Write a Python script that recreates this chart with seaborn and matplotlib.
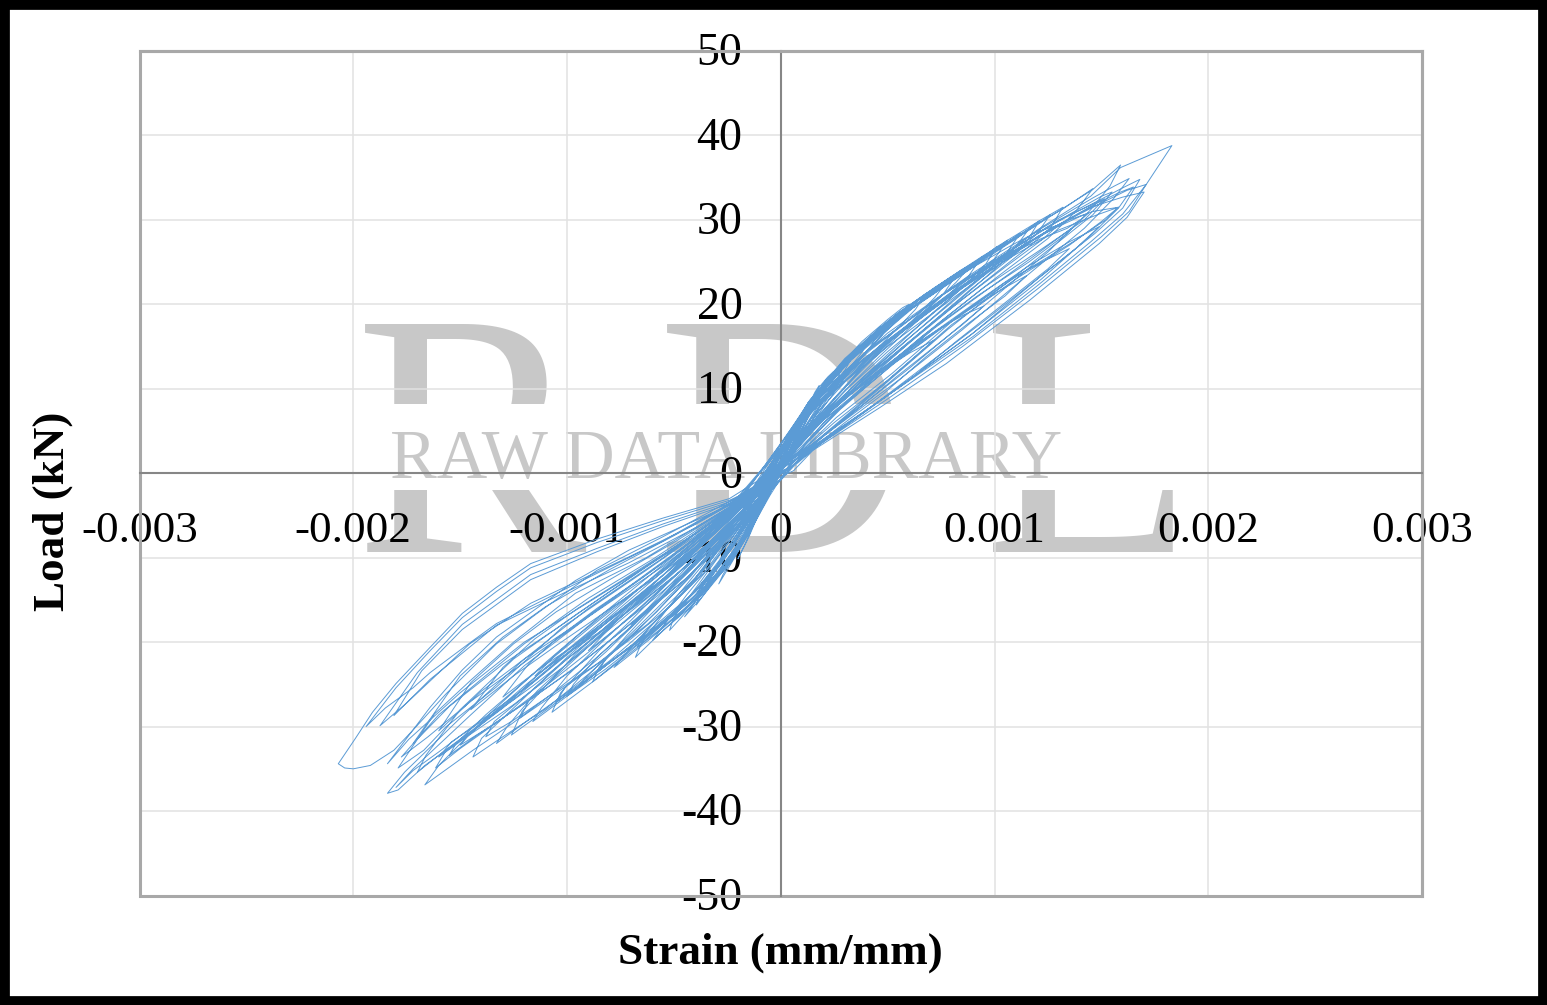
import numpy as np
import pandas as pd
import matplotlib
matplotlib.use("Agg")
import matplotlib.pyplot as plt
from matplotlib.patches import Rectangle
from matplotlib.transforms import ScaledTranslation
import seaborn as sns

# cycles, strain in units of 0.001 mm/mm, load in kN
neg_strain = [
    [-.24,-.55,-.86,-1.17,-1.33,-1.49,-1.64,-1.80,-1.91,-1.99,-2.07,-2.04,-2.0,-1.92,-1.81,-1.72,-1.565,-1.33,-1.14,-.86,-.55,-.2],
    [-.24,-.55,-.86,-1.17,-1.33,-1.49,-1.64,-1.80,-1.94,-1.85,-1.72,-1.64,-1.45,-1.33,-.96,-.55,-.2],
    [-.24,-.55,-.86,-1.17,-1.49,-1.70,-1.875,-1.75,-1.455,-1.17,-.71,-.395,-.15],
    [-.24,-.55,-.86,-1.17,-1.49,-1.68,-1.81,-1.64,-1.33,-1.0,-.71,-.395,-.15],
    [-.24,-.71,-.96,-1.33,-1.49,-1.64,-1.84,-1.74,-1.5,-1.2,-.85,-.5,-.2],
    [-.24,-.63,-.96,-1.25,-1.45,-1.62,-1.79,-1.67,-1.565,-1.33,-1.02,-.63,-.16],
    [-.24,-.6,-.9,-1.2,-1.42,-1.6,-1.775,-1.65,-1.45,-1.2,-.9,-.55,-.18],
    [-.25,-.55,-.9,-1.2,-1.5,-1.76,-1.84,-1.79,-1.665,-1.44,-1.2,-.9,-.55,-.25],
    [-.25,-.55,-.9,-1.2,-1.45,-1.72,-1.8,-1.72,-1.6,-1.4,-1.15,-.85,-.5,-.2],
    [-.25,-.55,-.85,-1.1,-1.35,-1.6,-1.665,-1.55,-1.44,-1.26,-1.07,-.86,-.63,-.395,-.16],
    [-.25,-.55,-.85,-1.1,-1.3,-1.57,-1.615,-1.5,-1.3,-1.1,-.9,-.65,-.4,-.15],
    [-.25,-.55,-.8,-1.05,-1.25,-1.54,-1.6,-1.48,-1.25,-1.0,-.75,-.5,-.3,-.12],
    [-.25,-.5,-.75,-1,-1.2,-1.40,-1.44,-1.3,-1.1,-.9,-.68,-.42,-.2],
    [-.25,-.5,-.75,-1,-1.15,-1.34,-1.38,-1.26,-1.05,-.85,-.62,-.4,-.18],
    [-.25,-.395,-.61,-.785,-.96,-1.21,-1.26,-1.08,-.89,-.71,-.535,-.395,-.27,-.08],
    [-.25,-.42,-.62,-.8,-.98,-1.18,-1.22,-1.06,-.88,-.7,-.52,-.36,-.2],
    [-.2,-.35,-.52,-.7,-.85,-1.03,-1.07,-.88,-.72,-.56,-.42,-.28,-.1],
    [-.2,-.35,-.52,-.68,-.82,-1.01,-1.05,-.86,-.7,-.54,-.4,-.26,-.1],
    [-.18,-.3,-.45,-.6,-.72,-.85,-.88,-.72,-.58,-.45,-.32,-.2,-.08],
    [-.18,-.3,-.44,-.58,-.7,-.82,-.85,-.68,-.54,-.42,-.3,-.18,-.07],
    [-.15,-.25,-.37,-.48,-.65,-.68,-.55,-.43,-.32,-.2,-.07],
    [-.15,-.25,-.36,-.47,-.64,-.67,-.53,-.41,-.3,-.18,-.06],
    [-.12,-.2,-.3,-.38,-.5,-.52,-.42,-.32,-.23,-.14,-.05],
    [-.12,-.2,-.29,-.37,-.48,-.5,-.4,-.3,-.21,-.13,-.05],
    [-.1,-.17,-.24,-.3,-.38,-.395,-.32,-.25,-.17,-.1,-.04],
    [-.1,-.16,-.23,-.29,-.36,-.38,-.3,-.23,-.16,-.09,-.03],
    [-.08,-.13,-.18,-.22,-.27,-.29,-.23,-.17,-.12,-.07,-.02],
    [-.06,-.1,-.14,-.17,-.2,-.15,-.11,-.07,-.03],
    [-.05,-.09,-.12,-.15,-.18,-.13,-.09,-.05,-.02],
    [-.25,-.6,-.95,-1.25,-1.5,-1.66,-1.70,-1.58,-1.4,-1.15,-.88,-.6,-.3,-.1],
    [-.25,-.55,-.88,-1.15,-1.38,-1.52,-1.55,-1.42,-1.22,-.98,-.75,-.5,-.26,-.1],
    [-.22,-.5,-.8,-1.08,-1.32,-1.46,-1.5,-1.36,-1.16,-.92,-.68,-.44,-.24,-.08],
    [-.22,-.46,-.72,-.95,-1.14,-1.28,-1.33,-1.18,-1,-.8,-.6,-.38,-.18],
    [-.2,-.4,-.62,-.82,-1,-1.12,-1.16,-1,-.82,-.64,-.46,-.3,-.12],
    [-.18,-.36,-.55,-.72,-.86,-.97,-1,-.84,-.68,-.52,-.36,-.22,-.08],
    [-.16,-.32,-.5,-.66,-.8,-.92,-.95,-.78,-.62,-.48,-.34,-.2,-.07],
    [-.14,-.28,-.42,-.56,-.68,-.76,-.78,-.62,-.48,-.36,-.24,-.14,-.05],
    [-.12,-.22,-.33,-.44,-.54,-.6,-.48,-.36,-.26,-.16,-.05],
    [-.1,-.18,-.26,-.34,-.41,-.45,-.36,-.27,-.19,-.11,-.04],
    [-.22,-.5,-.8,-1.1,-1.3,-1.5,-1.72,-1.55,-1.3,-1.05,-.8,-.5,-.22,-.08],
    [-.22,-.5,-.8,-1.05,-1.25,-1.45,-1.6,-1.4,-1.2,-.95,-.72,-.45,-.2,-.07],
    [-.2,-.45,-.7,-.95,-1.15,-1.3,-1.45,-1.25,-1.05,-.82,-.6,-.38,-.16,-.06],
    [-.2,-.42,-.65,-.86,-1.05,-1.18,-1.3,-1.12,-.92,-.72,-.52,-.32,-.14,-.05],
    [-.18,-.38,-.58,-.78,-.94,-1.05,-1.15,-.98,-.8,-.62,-.45,-.28,-.12],
    [-.16,-.32,-.5,-.66,-.78,-.9,-.75,-.6,-.46,-.32,-.18,-.06],
    [-.14,-.28,-.42,-.54,-.63,-.7,-.58,-.45,-.33,-.22,-.1,-.04],
]
neg_load = [
    [-3.0,-5.3,-7.8,-10.7,-13.5,-16.6,-20.6,-24.9,-28.3,-31.4,-34.4,-34.9,-35,-34.6,-32.8,-30.4,-26.1,-20.2,-16.6,-11.5,-7.5,-2.8],
    [-3.2,-5.6,-8.2,-11.2,-14,-17.1,-21,-25.4,-30,-27.8,-25.4,-23.6,-20,-17.8,-13.1,-8.0,-3.0],
    [-3.4,-6.0,-8.9,-12.0,-17.9,-23.6,-29.9,-27.2,-20.2,-15.4,-9.9,-6.0,-2.5],
    [-3.6,-6.3,-9.3,-12.6,-18.5,-23.4,-28.7,-24.4,-18.0,-14.0,-10.6,-6.4,-2.6],
    [-3.8,-9.1,-12.7,-19.4,-23.3,-27.7,-34.4,-31.5,-26,-20,-14.5,-9,-3.6],
    [-4,-10,-14.2,-20,-24.5,-28.5,-34.9,-32.8,-30,-25.3,-18.2,-11.5,-3.2],
    [-4.2,-10.2,-14.8,-20.2,-24.8,-28.6,-33.6,-31.2,-27,-22.4,-17,-11,-3.6],
    [-4.4,-10,-16,-22,-29,-35.4,-37.9,-37.5,-34.6,-30.5,-25.2,-19,-12.5,-5],
    [-4.6,-10.6,-17,-22.8,-28.6,-35,-37.2,-35.2,-33,-29.2,-24.6,-18.4,-11.6,-4.4],
    [-4.6,-10.8,-17,-22.4,-28.2,-34.6,-36.9,-34.8,-32.8,-29.7,-26.1,-21.8,-16.6,-10.7,-4],
    [-4.8,-11.2,-17.8,-23,-27.8,-33,-34.9,-32.6,-29,-25.2,-21.2,-15.8,-10,-3.6],
    [-5,-11.6,-17,-22.4,-26.8,-31.8,-33.6,-31.4,-27.4,-22.6,-17.4,-12.2,-7.8,-3],
    [-5.2,-11,-16.2,-21.8,-26.6,-31.4,-33.6,-31.2,-27.9,-23.8,-18.9,-12.2,-5.2],
    [-5.4,-11.4,-16.8,-22,-25.4,-29.4,-31.2,-29.4,-25.8,-22.4,-17.8,-12.4,-5],
    [-5.2,-8.3,-13.5,-17.4,-21.4,-28.2,-31,-27.7,-24.1,-20.6,-17.4,-14.3,-9.9,-3.2],
    [-5.6,-9.4,-14.2,-18.2,-22.4,-27,-29,-26.2,-23,-19.6,-15.8,-11.8,-6.4],
    [-4.6,-8.6,-12.8,-17.4,-21,-26,-28.3,-24.7,-21.4,-18,-15,-10.8,-3.8],
    [-5,-9,-13.6,-17.8,-21.2,-25.4,-27.1,-23.6,-20.4,-17,-14,-9.8,-3.6],
    [-4.4,-7.8,-12,-16,-19.2,-23,-24.7,-21.6,-18.8,-16,-12.8,-8.4,-3],
    [-4.8,-8.4,-12.6,-16.4,-19.2,-22,-23.3,-20.2,-17.6,-15,-12,-7.8,-2.8],
    [-4,-7.2,-11,-14.4,-20,-21.8,-18.6,-16,-13,-9,-3],
    [-4.4,-7.6,-11.2,-14.4,-19,-20.6,-17.4,-14.8,-12,-8,-2.6],
    [-3.6,-6.6,-10.2,-13,-17,-18.6,-15.8,-13,-10,-6.4,-2.4],
    [-4,-7,-10.4,-13,-16.2,-17.4,-14.8,-12,-9,-5.8,-2.2],
    [-3.2,-6,-9,-11.4,-14.4,-15.6,-13,-10.8,-7.8,-4.8,-1.8],
    [-3.6,-6,-8.8,-10.8,-13.2,-14.3,-11.8,-9.4,-6.8,-4,-1.4],
    [-3,-5.4,-7.8,-9.8,-12,-13.1,-10.6,-8,-5.6,-3.2,-1],
    [-2.4,-4.6,-6.8,-8.6,-10.1,-7.6,-5.2,-3.2,-1.2],
    [-2.6,-4.4,-5.8,-7,-8,-5.8,-3.8,-2.2,-.8],
    [-4.5,-10.6,-16.6,-22,-28,-33.4,-35.4,-33,-29.6,-25,-19.6,-14,-7.4,-2.4],
    [-4.8,-11.4,-18,-23.6,-28.6,-32,-33.4,-31,-27.6,-23.4,-18.8,-13.4,-7.4,-2.8],
    [-4.8,-11,-17.4,-23,-28,-31,-32.2,-30,-26.6,-22.2,-17.4,-12.4,-7.4,-2.4],
    [-5,-10.8,-16.4,-21.4,-25.8,-30,-32,-29.2,-26,-22.2,-17.8,-12.2,-5],
    [-5,-10,-15,-19.6,-24,-27.8,-29.4,-26.4,-23.2,-19.6,-15.6,-11,-3.8],
    [-4.6,-9.4,-14.4,-18.6,-21.8,-25,-26.4,-23.2,-20.2,-16.8,-13,-8.4,-3],
    [-4.6,-9.2,-14,-18,-21.4,-24.4,-25.4,-22,-19,-16,-12.6,-8,-2.8],
    [-4.4,-8.8,-13.2,-16.8,-20,-22.4,-23,-19.8,-16.8,-14,-10.8,-6.8,-2.2],
    [-3.8,-7.4,-11,-14.4,-17.8,-19.8,-17,-14,-11,-7,-2],
    [-3.4,-6.6,-9.8,-12.8,-15.6,-17,-14.4,-11.6,-8.8,-5.2,-1.6],
    [-3.4,-7.4,-11.4,-15.8,-19.4,-24,-32,-27.6,-22.6,-18.4,-14,-8.8,-4,-1.4],
    [-3.8,-8.2,-12.6,-16.4,-20.2,-24.8,-30.5,-25.8,-22,-17.8,-13.6,-8.6,-4,-1.4],
    [-3.8,-8,-12,-16,-19.6,-23,-28,-24,-20.4,-16.4,-12.6,-8.4,-3.6,-1.2],
    [-3.9,-8.2,-12.4,-16,-19.6,-22.6,-26.5,-23,-19.6,-15.8,-12,-8,-3.4,-1.2],
    [-3.8,-8,-12,-15.8,-19,-21.4,-24,-21,-18,-14.6,-11.2,-7.6,-3],
    [-3.6,-7.4,-11.4,-15,-17.8,-21,-18,-15,-12,-8.8,-5.2,-1.6],
    [-3.4,-7,-10.6,-13.8,-16.2,-18,-15.4,-12.6,-9.8,-6.8,-3.4,-1.2],
]
pos_strain = [
    [.2,.5,.9,1.2,1.45,1.59,1.83,1.71,1.60,1.45,1.2,.9,.5,.15],
    [.15,.45,.85,1.2,1.45,1.6,1.70,1.62,1.49,1.165,.775,.465,.15,.06],
    [.2,.5,.9,1.25,1.5,1.62,1.71,1.63,1.5,1.2,.85,.5,.17],
    [.18,.48,.9,1.25,1.48,1.6,1.68,1.6,1.47,1.22,.9,.52,.18],
    [.18,.5,.88,1.22,1.46,1.56,1.63,1.56,1.42,1.18,.85,.55,.2],
    [.18,.525,.875,1.21,1.46,1.59,1.54,1.45,1.25,.95,.6,.2],
    [.16,.45,.8,1.12,1.35,1.46,1.58,1.5,1.35,1.1,.8,.5,.25,.07],
    [.14,.34,.68,1.01,1.21,1.32,1.46,1.38,1.25,1.0,.75,.5,.28,.08],
    [.14,.4,.75,1.05,1.3,1.42,1.515,1.42,1.2,.95,.7,.45,.25,.08],
    [.12,.38,.72,1.05,1.3,1.48,1.58,1.52,1.38,1.12,.82,.52,.26,.07],
    [.12,.36,.7,1.0,1.22,1.34,1.40,1.34,1.16,.92,.66,.42,.22,.06],
    [.135,.34,.68,.875,1.01,1.21,1.32,1.26,1.15,.95,.7,.45,.25,.07],
    [.12,.33,.62,.9,1.08,1.2,1.3,1.22,1.06,.84,.6,.42,.24,.07],
    [.13,.33,.52,.77,.98,1.12,1.21,1.15,1.02,.85,.62,.4,.2,.06],
    [.13,.32,.52,.76,.95,1.12,1.06,.95,.78,.58,.38,.2,.06],
    [.12,.3,.5,.72,.9,1.01,.96,.85,.68,.5,.32,.17,.05],
    [.12,.28,.46,.66,.8,.875,.82,.72,.58,.42,.27,.13,.04],
    [.11,.26,.44,.6,.72,.775,.72,.62,.5,.36,.22,.1,.03],
    [.1,.24,.4,.54,.63,.68,.63,.54,.42,.3,.18,.08,.03],
    [.09,.2,.33,.44,.525,.47,.38,.28,.18,.08,.03],
    [.08,.18,.28,.36,.415,.37,.3,.22,.14,.07,.02],
    [.08,.16,.24,.3,.34,.3,.24,.17,.1,.05,.02],
    [.07,.13,.18,.22,.245,.21,.16,.11,.06,.02],
    [.05,.09,.13,.16,.18,.15,.11,.07,.03],
    [.04,.07,.1,.12,.135,.11,.08,.05,.02],
    [.02,.04,.055,.07,.05,.03,.01],
    [.16,.46,.85,1.2,1.45,1.58,1.65,1.58,1.46,1.22,.88,.52,.18,.06],
    [.16,.42,.78,1.1,1.36,1.5,1.55,1.46,1.3,1.06,.78,.48,.18,.06],
    [.14,.4,.75,1.05,1.28,1.4,1.44,1.36,1.2,.98,.72,.46,.2,.06],
    [.13,.36,.66,.92,1.1,1.22,1.26,1.2,1.08,.88,.66,.44,.22,.06],
    [.13,.34,.6,.84,1.02,1.12,1.16,1.1,.98,.8,.6,.38,.18,.06],
    [.12,.32,.55,.78,.95,1.03,1.06,1,.9,.72,.54,.36,.18,.05],
    [.12,.3,.5,.72,.87,.92,.94,.88,.78,.62,.46,.3,.15,.05],
    [.11,.28,.46,.66,.78,.82,.825,.76,.66,.52,.38,.24,.12,.04],
    [.1,.24,.38,.5,.57,.6,.55,.46,.34,.24,.14,.05],
    [.09,.2,.3,.4,.45,.47,.42,.34,.25,.16,.08,.03],
    [.07,.14,.21,.27,.3,.26,.2,.14,.08,.03],
    [.03,.06,.08,.1,.08,.05,.02],
    [.1,.3,.55,.82,1.05,1.22,1.35,1.25,1.05,.82,.6,.38,.18,.05],
    [.1,.28,.5,.74,.92,1.05,1.15,1.05,.88,.68,.48,.3,.14,.04],
    [.1,.24,.42,.6,.76,.86,.95,.85,.7,.54,.38,.22,.1,.03],
    [.08,.2,.34,.48,.6,.72,.62,.5,.36,.22,.1,.03],
    [.12,.32,.6,.9,1.15,1.35,1.49,1.38,1.2,.95,.68,.42,.2,.05],
]
pos_load = [
    [8.5,15.5,23,28.8,32.8,36.2,38.8,34.2,30.7,27.4,22.2,16.2,9.2,3.2],
    [7.5,14.5,22,28,31.5,32.7,33.3,30.3,27.2,20.5,13,7.8,2.7,.3],
    [8.8,15,22.5,28.8,32,33.5,34.2,31,28,21.8,15,8.8,3.2],
    [9,15.4,23.4,29.2,32.2,33.8,34.8,31.4,28.4,23.4,16.6,9.6,3.6],
    [9.4,16.6,23.4,29,32.6,34,34.9,32.6,29,24,17,11,4.4],
    [10,18,24,29.6,33.6,36.5,34,31.2,26.2,19.8,12.4,4.5],
    [8.4,14.8,21.4,26.8,30,31,31.5,29.8,27,23,17.6,11,6,2],
    [8.8,13.8,21,26.6,29.7,31.3,33.7,31,27.8,23,18,12.4,7.6,2.5],
    [8.2,14.4,21,26,30,31.4,32.5,30,26.2,22,17,11.8,7,2.4],
    [7,13.4,19.8,25.2,28.8,30.6,31.5,30,27.6,23.6,18.4,11.8,6.6,2],
    [6.8,13,19.4,25,27.8,29,30,28.4,25,21,16.2,11,6.4,2.2],
    [8.6,14,21.3,24.2,26.8,29.9,31.5,29,26.6,22.6,17.6,12.4,8,3],
    [7.6,13.4,19.6,24.4,27,28.6,29.4,27.6,24.6,20.4,15.4,11.6,7.4,2.8],
    [8.4,13.8,18,22.4,26,28.2,29.9,27.4,24.6,20.8,16,11.4,6.6,2.6],
    [8,13.4,17.8,22.2,25.4,28.4,26.2,23.4,19.8,15.6,11.2,7,3],
    [7.8,13,17.4,21.6,24.8,26.8,24.8,22,18.2,14.4,10.2,6.4,2.6],
    [7.6,12.4,16.8,20.8,23.2,24.2,22.6,20.2,17,13.2,9.4,5.6,2.2],
    [7.2,11.8,16.6,19.8,21.8,22.6,20.8,18.2,15.4,12,8,4.4,1.8],
    [6.6,11.4,15.8,18.8,20.4,21.3,19.4,17,14,10.8,7.4,4,1.8],
    [6,9.8,13.6,16.4,18.3,16.2,13.8,11,7.8,4.2,1.8],
    [5.4,9.2,12.4,14.6,15.7,14,11.8,9.4,6.4,3.6,1.4],
    [5.6,8.6,11,12.8,14,12.2,10,7.8,5,3,1.4],
    [5,8.2,10.2,11.4,12,10,8,5.8,3.4,1.4],
    [3.8,6,8,9.6,10.4,8.4,6.4,4,2],
    [3.2,5.2,7,8,8.6,6.8,5,3,1.4],
    [2.4,4,5,5.9,4.2,2.6,1],
    [8.2,14.8,22,28,31.6,33.2,33.9,31.4,28.4,23,16.2,9.6,3.4,.8],
    [8.6,14.6,21.6,26.8,30.8,32.8,33.3,30.6,27.4,22.6,17,10.4,4,1],
    [8,14.4,21,25.8,29,30.4,30.8,29,26,22,17.2,11.8,6,1.8],
    [8.2,14.4,20.8,25,27.8,29.8,30.6,28.4,25.6,21.6,16.8,11.8,7,2.4],
    [8.4,14,19.8,24,26.6,28.2,28.9,26.8,24.2,20.4,16,11,6.2,2.4],
    [8,13.8,19,23,25.8,27,27.6,25.4,23,19.2,15,10.8,6.4,2.4],
    [8,13.2,18,22,24.4,25.2,25.6,23.4,21,17.6,13.8,9.8,5.6,2.2],
    [7.6,12.8,17.2,20.8,22.8,23.4,23.6,21.2,19,15.8,12.4,8.4,4.8,1.8],
    [7,11.8,15.6,18.2,19.6,20,18.2,16,12.8,9.6,6,2.2],
    [6.4,10.6,13.6,15.8,16.8,17,15,12.6,9.6,6.4,3.4,1.2],
    [5.2,8.4,11,12.4,13,11,8.6,6,3.4,1.2],
    [2.8,4.8,6,7,5.2,3,.8],
    [4.4,8.2,13.4,18.4,22.6,25,26.6,24.2,20.2,15.6,11,7,3.4,.8],
    [4.2,8,12.6,17,20,22,23.4,21,17.8,13.8,9.4,6,2.8,.6],
    [4.4,7.6,11.4,14.8,17.4,18.8,19.8,17.6,14.6,11.4,8,4.8,2.2,.6],
    [3.8,6.6,9.6,12.2,14.2,15.8,13.6,11,8,5,2.4,.6],
    [5,9.4,14.6,20,24.4,27.4,29.2,26.6,23,18,12.8,7.8,3.8,.8],
]

x_ticks = [-0.003, -0.002, -0.001, 0, 0.001, 0.002, 0.003]
x_labels = ["-0.003", "-0.002", "-0.001", "0", "0.001", "0.002", "0.003"]
y_ticks = [-50, -40, -30, -20, -10, 0, 10, 20, 30, 40, 50]
y_labels = ["-50", "-40", "-30", "-20", "-10", "0", "10", "20", "30", "40", "50"]

# one continuous path, swinging between tension and compression
path_strain = []
path_load = []
n_cycles = max(len(neg_strain), len(pos_strain))
for i in range(n_cycles):
    if i < len(pos_strain):
        path_strain += pos_strain[i]
        path_load += pos_load[i]
    if i < len(neg_strain):
        path_strain += neg_strain[i]
        path_load += neg_load[i]

df = pd.DataFrame({"strain": np.array(path_strain) * 1e-3, "load": path_load})

sns.set_theme(style="white")
plt.rcParams["font.family"] = ["Liberation Serif", "DejaVu Serif"]

W, H = 1547, 1005
fig = plt.figure(figsize=(W / 100, H / 100), dpi=100, facecolor="white")
ax = fig.add_axes([139.5 / W, 1 - 895.5 / H, 1282.5 / W, 844.5 / H])
ax.patch.set_alpha(0)

sns.lineplot(data=df, x="strain", y="load", sort=False, estimator=None,
             color="#5B9BD5", linewidth=0.7, ax=ax, zorder=3)

ax.set_xlim(-0.003, 0.003)
ax.set_ylim(-50, 50)
ax.set_xticks(x_ticks)
ax.set_xticklabels(x_labels)
ax.set_yticks(y_ticks)
ax.set_yticklabels(y_labels)
ax.grid(True, color="#E2E2E2", linewidth=1.1, zorder=0)
ax.set_axisbelow(True)

# axes cross at zero, with a lighter frame round the plot area
for side in ["left", "bottom"]:
    ax.spines[side].set_position(("data", 0))
    ax.spines[side].set_color("#868686")
    ax.spines[side].set_linewidth(1.5)
for side in ["top", "right"]:
    ax.spines[side].set_color("#A8A8A8")
    ax.spines[side].set_linewidth(2.2)
ax.add_patch(Rectangle((0, 0), 1, 1, transform=ax.transAxes, fill=False,
                       edgecolor="#A8A8A8", linewidth=2.2, clip_on=False, zorder=2))

ax.tick_params(axis="x", direction="out", length=8.5, width=1.4, color="#868686",
               labelsize=32.5, labelcolor="black", pad=19)
ax.tick_params(axis="y", direction="out", length=8.5, width=1.4, color="#868686",
               labelsize=33, labelcolor="black", pad=19)
nudge = ScaledTranslation(0, 2 / 100, fig.dpi_scale_trans)
for label in ax.get_yticklabels():
    label.set_transform(label.get_transform() + nudge)

ax.set_xlabel("Strain (mm/mm)", fontsize=32.5, fontweight="bold", color="black")
ax.set_ylabel("Load (kN)", fontsize=32.5, fontweight="bold", color="black")
ax.xaxis.set_label_coords(0.5, -0.0675)
ax.yaxis.set_label_coords(-0.068, 0.455)
ax.xaxis.label.set_va("center")
ax.yaxis.label.set_va("center")

# watermark behind the axes, big letters cut by a white band under the caption
mark = "#C8C8C8"
for letter, left in zip("RDL", [355, 657, 983]):
    fig.text(left / W, 1 - 552 / H, letter, fontsize=250, color=mark,
             ha="left", va="baseline", zorder=-3)
fig.add_artist(Rectangle((340 / W, 1 - 490 / H), 880 / W, 86 / H, transform=fig.transFigure,
                         facecolor="white", edgecolor="none", zorder=-2))
fig.text(726 / W, 1 - 478 / H, "RAW DATA LIBRARY", fontsize=50.5, color=mark,
         ha="center", va="baseline", zorder=-1)

# black picture border
fig.add_artist(Rectangle((0, 0), 1, 1, transform=fig.transFigure, fill=False,
                         edgecolor="black", linewidth=13.5, zorder=10))

fig.savefig("out.png", dpi=100)
